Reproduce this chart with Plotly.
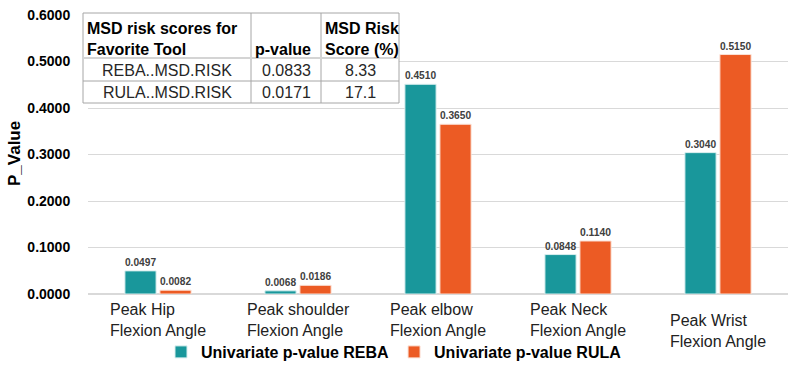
import plotly.graph_objects as go

categories = ["Peak Hip<br>Flexion Angle", "Peak shoulder<br>Flexion Angle", "Peak elbow<br>Flexion Angle",
              "Peak Neck<br>Flexion Angle", "Peak Wrist<br>Flexion Angle"]
cat_keys = ["Hip", "Shoulder", "Elbow", "Neck", "Wrist"]
reba = [0.0497, 0.0068, 0.4510, 0.0848, 0.3040]
rula = [0.0082, 0.0186, 0.3650, 0.1140, 0.5150]
y_ticks = [0, 0.1, 0.2, 0.3, 0.4, 0.5, 0.6]

tbl_header = [["MSD risk scores for", "Favorite Tool"], ["", "p-value"], ["MSD Risk", "Score (%)"]]
tbl_col1 = ["REBA..MSD.RISK", "RULA..MSD.RISK"]
tbl_col2 = ["0.0833", "0.0171"]
tbl_col3 = ["8.33", "17.1"]

TEAL = "#19979B"
ORANGE = "#EC5B24"
W, H = 788, 376
FONT = "Arial, Liberation Sans, sans-serif"


def fx(px):
    return px / W


def fy(py):
    return 1 - py / H


fig = go.Figure()
fig.add_trace(go.Bar(x=cat_keys, y=reba, name="Univariate p-value REBA",
                     marker=dict(color=TEAL, line=dict(color="#d8eeee", width=1)),
                     texttemplate="%{y:.4f}", textposition="outside", cliponaxis=False,
                     textfont=dict(family=FONT, size=11, color="#404040", weight="bold")))
fig.add_trace(go.Bar(x=cat_keys, y=rula, name="Univariate p-value RULA",
                     marker=dict(color=ORANGE, line=dict(color="#fbe0d5", width=1)),
                     texttemplate="%{y:.4f}", textposition="outside", cliponaxis=False,
                     textfont=dict(family=FONT, size=11, color="#404040", weight="bold")))

# ---- table drawn with shapes + annotations ----
T_L, T_R, T_T, T_B = 83, 399, 13, 103
col_edges = [83, 251, 321, 399]
row_edges = [13, 58, 81, 103]
shapes = [dict(type="rect", xref="paper", yref="paper", x0=fx(T_L), x1=fx(T_R), y0=fy(T_B), y1=fy(T_T),
               fillcolor="white", line=dict(color="#a6a6a6", width=1), layer="above")]
for cx in col_edges[1:-1]:
    shapes.append(dict(type="line", xref="paper", yref="paper", x0=fx(cx), x1=fx(cx), y0=fy(T_B), y1=fy(T_T),
                       line=dict(color="#a6a6a6", width=1), layer="above"))
shapes.append(dict(type="line", xref="paper", yref="paper", x0=fx(T_L), x1=fx(T_R), y0=fy(row_edges[1]),
                   y1=fy(row_edges[1]), line=dict(color="#d4d4d4", width=2), layer="above"))
shapes.append(dict(type="line", xref="paper", yref="paper", x0=fx(T_L), x1=fx(T_R), y0=fy(row_edges[2]),
                   y1=fy(row_edges[2]), line=dict(color="#a6a6a6", width=1), layer="above"))

header_line_y = [28, 49]
for ci, lines in enumerate(tbl_header):
    for li, txt in enumerate(lines):
        if txt:
            fig.add_annotation(x=fx(col_edges[ci] + 2), y=fy(header_line_y[li]), xref="paper", yref="paper",
                               xanchor="left", yanchor="middle", text="<b>" + txt + "</b>", showarrow=False,
                               font=dict(family=FONT, size=16, color="black"))
for ci, col in enumerate([tbl_col1, tbl_col2, tbl_col3]):
    for ri, txt in enumerate(col):
        cy = (row_edges[ri + 1] + row_edges[ri + 2]) / 2
        fig.add_annotation(x=fx((col_edges[ci] + col_edges[ci + 1]) / 2), y=fy(cy + 0.5), xref="paper", yref="paper",
                           xanchor="center", yanchor="middle", text=txt, showarrow=False,
                           font=dict(family=FONT, size=16, color="#262626"))

for k, lab in zip(cat_keys, categories):
    fig.add_annotation(x=k, xref="x", y=fy(299), yref="paper", yanchor="top", xanchor="center",
                       text=lab, showarrow=False, align="left",
                       yshift=-11 if k == "Wrist" else 0,
                       font=dict(family=FONT, size=16, color="#222222"))

fig.add_annotation(x=fx(15), xref="paper", y=fy(154), yref="paper", text="<b>P_Value</b>", textangle=-90,
                   xanchor="center", yanchor="middle",
                   showarrow=False, font=dict(family=FONT, size=17, color="black"))

fig.update_layout(
    width=W, height=H, margin=dict(l=0, r=0, t=0, b=0),
    paper_bgcolor="white", plot_bgcolor="white",
    barmode="group", bargap=0.5, bargroupgap=0.11,
    showlegend=True, shapes=shapes,
    legend=dict(orientation="h", x=0.5, xanchor="center", y=fy(352), yanchor="middle",
                font=dict(family=FONT, size=16, color="black", weight="bold"), itemwidth=30),
    xaxis=dict(domain=[fx(88), 1], showticklabels=False, showgrid=False, zeroline=False, automargin=False),
    yaxis=dict(domain=[fy(294), fy(15)], range=[0, 0.6], tickvals=y_ticks, tickformat=".4f",
               showgrid=True, gridcolor="#d9d9d9", zeroline=True, zerolinecolor="#d9d9d9",
               ticks="outside", ticklen=14, tickcolor="rgba(0,0,0,0)", automargin=False,
               tickfont=dict(family=FONT, size=14, color="black", weight="bold")),
)

fig.write_html("out.html", config={"displayModeBar": False},
               post_script="document.body.style.margin='0px';")
